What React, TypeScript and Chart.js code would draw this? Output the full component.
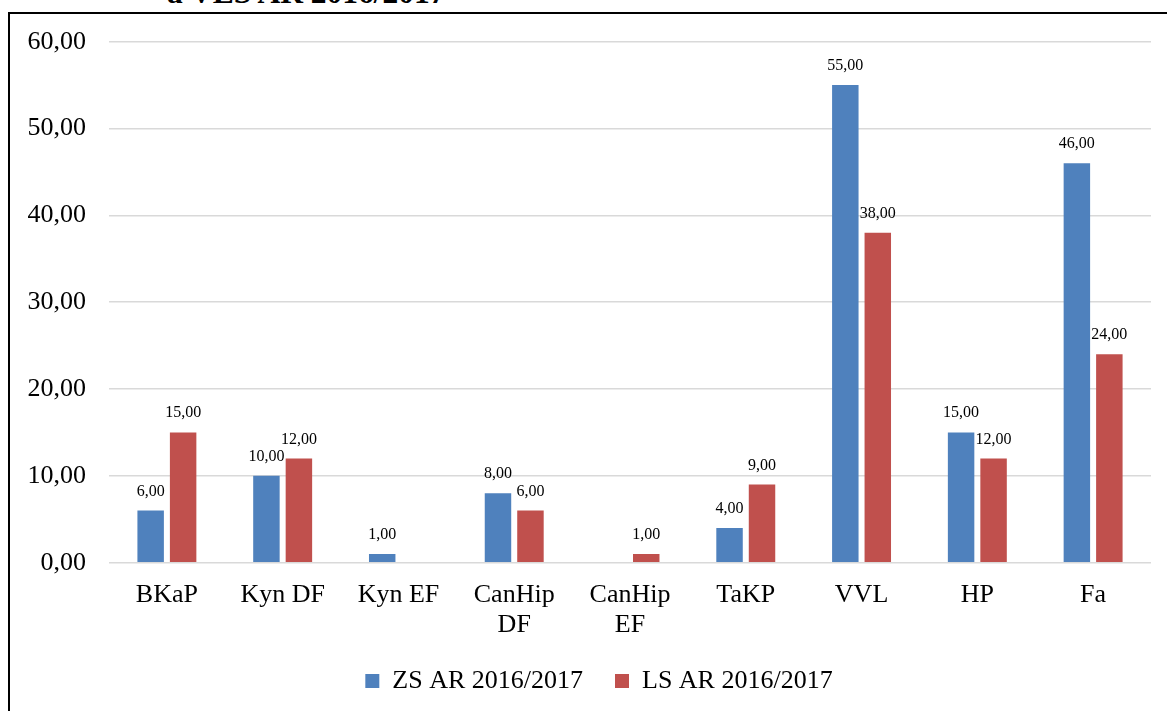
import React, { useEffect, useRef } from "react";
import { Chart, registerables } from "chart.js";

Chart.register(...registerables);

const categories: (string | string[])[] = [
  "BKaP",
  "Kyn DF",
  "Kyn EF",
  ["CanHip", "DF"],
  ["CanHip", "EF"],
  "TaKP",
  "VVL",
  "HP",
  "Fa",
];
const zsLabel = "ZS AR 2016/2017";
const lsLabel = "LS AR 2016/2017";
const zsValues = [6, 10, 1, 8, 0, 4, 55, 15, 46];
const lsValues = [15, 12, 0, 6, 1, 9, 38, 12, 24];
const yTicks = [0, 10, 20, 30, 40, 50, 60];
const titleText = "a VLS AR 2016/2017";

const FONT = '"Liberation Serif", "Times New Roman", serif';
const fmt = (v: number) => v.toFixed(2).replace(".", ",");

Chart.defaults.font.family = FONT;

const valueLabels = {
  id: "valueLabels",
  afterDatasetsDraw(chart: any) {
    const ctx = chart.ctx;
    ctx.save();
    ctx.font = `16px ${FONT}`;
    ctx.fillStyle = "#000";
    ctx.textAlign = "center";
    ctx.textBaseline = "alphabetic";
    chart.data.datasets.forEach((ds: any, di: number) => {
      const meta = chart.getDatasetMeta(di);
      meta.data.forEach((el: any, i: number) => {
        const v = ds.data[i];
        if (!v) return;
        ctx.fillText(fmt(v), el.x, el.y - 15);
      });
    });
    ctx.restore();
  },
};

export default function App() {
  const ref = useRef<HTMLCanvasElement | null>(null);
  useEffect(() => {
    if (!ref.current) return;
    const chart = new Chart(ref.current, {
      type: "bar",
      data: {
        labels: categories,
        datasets: [
          {
            label: zsLabel,
            data: zsValues,
            backgroundColor: "#4f81bd",
            categoryPercentage: 0.561,
            barPercentage: 0.815,
          },
          {
            label: lsLabel,
            data: lsValues,
            backgroundColor: "#c0504d",
            categoryPercentage: 0.561,
            barPercentage: 0.815,
          },
        ],
      },
      options: {
        responsive: false,
        animation: false,
        devicePixelRatio: 1,
        font: { family: FONT },
        layout: { padding: { top: 41.7, bottom: 7, left: 0, right: 0 } },
        plugins: {
          legend: {
            position: "bottom",
            labels: {
              font: { family: FONT, size: 26 },
              color: "#000",
              boxWidth: 14,
              boxHeight: 14,
              padding: 32,
            },
          },
          tooltip: { enabled: false },
          title: { display: false },
        },
        scales: {
          x: {
            grid: { display: false, drawTicks: false },
            border: { display: false },
            ticks: {
              font: { family: FONT, size: 26, lineHeight: 1.15 },
              color: "#000",
              padding: 18,
              autoSkip: false,
              maxRotation: 0,
            },
            afterFit: (s: any) => {
              s.height = 73.3;
            },
          },
          y: {
            min: 0,
            max: 60,
            afterBuildTicks: (s: any) => {
              s.ticks = yTicks.map((v) => ({ value: v }));
            },
            grid: { color: "#d9d9d9", lineWidth: 1.5, drawTicks: false },
            border: { display: false },
            ticks: {
              font: { family: FONT, size: 26 },
              color: "#000",
              padding: 23,
              callback: (v: any) => fmt(Number(v)),
            },
            afterFit: (s: any) => {
              s.width = 109;
            },
          },
          yR: {
            type: "linear",
            position: "right",
            display: true,
            grid: { display: false, drawTicks: false },
            border: { display: false },
            ticks: { display: false },
            afterFit: (s: any) => {
              s.width = 47;
            },
          },
        },
      } as any,
      plugins: [valueLabels],
    });
    return () => chart.destroy();
  }, []);

  return (
    <div
      style={{
        position: "fixed",
        left: 0,
        top: 0,
        width: 1167,
        height: 711,
        overflow: "hidden",
        background: "#fff",
      }}
    >
      <div
        style={{
          position: "absolute",
          left: 167,
          top: -23,
          font: `bold 31.5px ${FONT}`,
          lineHeight: "31px",
          whiteSpace: "nowrap",
          color: "#000",
        }}
      >
        {titleText}
      </div>
      <div
        style={{
          position: "absolute",
          left: 8,
          top: 12,
          width: 1300,
          height: 800,
          borderLeft: "2px solid #000",
          borderTop: "2px solid #000",
        }}
      />
      <div style={{ position: "absolute", left: 0, top: 0, width: 1198, height: 711 }}>
        <canvas ref={ref} width={1198} height={711} style={{ display: "block" }} />
      </div>
    </div>
  );
}
